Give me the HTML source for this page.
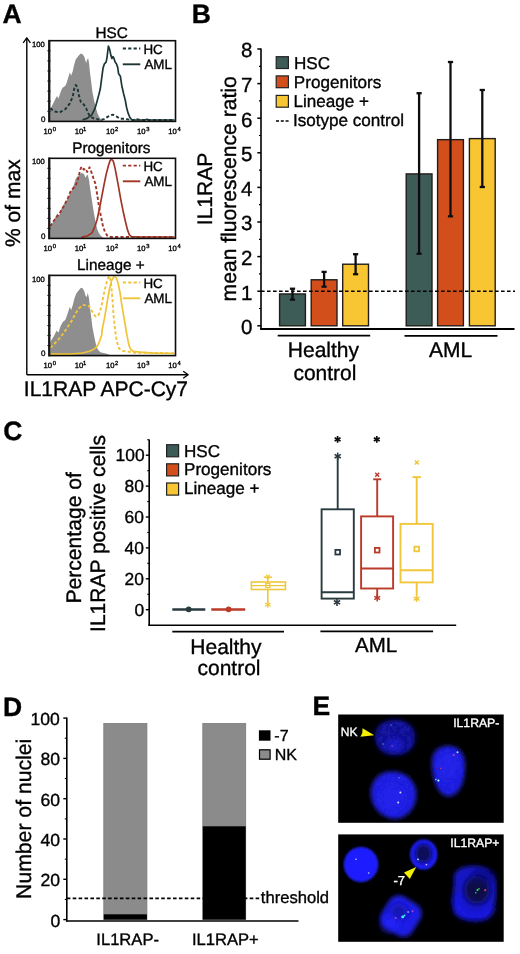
<!DOCTYPE html>
<html><head><meta charset="utf-8"><style>
html,body{margin:0;padding:0;background:#fff;}
svg{display:block;}
text{font-family:"Liberation Sans", sans-serif;}
</style></head><body>
<svg width="520" height="954" viewBox="0 0 520 954" style="text-rendering:geometricPrecision" font-family='"Liberation Sans", sans-serif'>
<defs><filter id="soft" x="0" y="0" width="100%" height="100%"><feGaussianBlur stdDeviation="0.4"/></filter></defs>
<rect x="0" y="0" width="520" height="954" fill="#fff"/>
<g filter="url(#soft)">
<text x="2.50" y="22.8" font-size="26.5" fill="#000" font-weight="bold" stroke="#000" stroke-width="0.35">A</text>
<text x="191.80" y="23.0" font-size="26.5" fill="#000" font-weight="bold" stroke="#000" stroke-width="0.35">B</text>
<text x="3.20" y="439.6" font-size="26.5" fill="#000" font-weight="bold" stroke="#000" stroke-width="0.35">C</text>
<text x="3.00" y="715.8" font-size="26.5" fill="#000" font-weight="bold" stroke="#000" stroke-width="0.35">D</text>
<text x="312.60" y="715.4" font-size="26.5" fill="#000" font-weight="bold" stroke="#000" stroke-width="0.35">E</text>
<polygon points="50.2,121.4 50.2,108.5 50.9,108 53.8,102.2 56.1,97.6 57.2,95.9 58.4,98.8 60.7,91.8 62.4,87.8 64.2,86.7 65.9,84.9 67,81.5 68.8,75.7 69.9,72.2 71.1,75.7 72.8,71.1 74,65.3 75.7,59.5 77.4,57.2 79.2,54.9 80.9,53.5 82.6,54.3 84.3,56.7 85.5,60.7 86.1,63 87.2,59.5 88.2,58.2 89,63 90.1,73.4 91.3,82.6 92.4,91.8 94.2,101.1 95.9,108 97.6,113.8 99.3,117.2 101.1,119.5 103,120.6 103,121.4" fill="#8e8e8e"/>
<polyline points="50.2,108.3 54.9,111.5 59.5,112.6 65.3,109.2 69.9,103.4 72.8,96.5 74,89.5 75.7,84.9 77.4,87.2 78.6,94.2 80.9,102.2 83.8,104.5 86.1,108 87.8,112.6 90.1,116.7 93.6,118.4 97.6,119.1 100.3,120 103.9,119.1 108.4,116.4 112.8,114.6 116.4,116.4 120,118.7 124.4,118.7 128.9,119.6 133.3,120 136.9,119.1 140,120 174.5,120" fill="none" stroke="#1d3536" stroke-width="1.9" stroke-dasharray="3.2,2.2" stroke-linejoin="round"/>
<polyline points="82.6,119.8 87.2,118.4 91.8,114.9 95,108.4 96.8,102.2 99,94.1 100.3,88.8 101.7,78.1 103,68.3 104.4,63.8 106.1,62.1 107,57.6 108.4,46 109.7,49.6 111,55.8 111.9,58.5 112.8,56.7 113.7,57.6 115.1,62.1 116.4,63.8 117.7,67.4 118.6,73.7 120.4,76.3 121.7,85.2 123.5,93.3 125.3,100.4 126.6,107.5 128,112.9 129.8,117.3 131.5,119.6 134.2,120 145,120 147,119.2 149,120 174.5,120" fill="none" stroke="#1d3536" stroke-width="1.7" stroke-linejoin="round"/>
<rect x="49.5" y="40.7" width="126.0" height="80.7" fill="none" stroke="#111" stroke-width="1.6"/>
<line x1="49.1" y1="39.900000000000006" x2="49.1" y2="122.2" stroke="#151515" stroke-width="2.0" stroke-linecap="butt"/>
<line x1="47.4" y1="50.7875" x2="50.6" y2="50.7875" stroke="#151515" stroke-width="1.1" stroke-linecap="butt"/>
<line x1="47.4" y1="60.875" x2="50.6" y2="60.875" stroke="#151515" stroke-width="1.1" stroke-linecap="butt"/>
<line x1="47.4" y1="70.9625" x2="50.6" y2="70.9625" stroke="#151515" stroke-width="1.1" stroke-linecap="butt"/>
<line x1="47.4" y1="81.05000000000001" x2="50.6" y2="81.05000000000001" stroke="#151515" stroke-width="1.1" stroke-linecap="butt"/>
<line x1="47.4" y1="91.1375" x2="50.6" y2="91.1375" stroke="#151515" stroke-width="1.1" stroke-linecap="butt"/>
<line x1="47.4" y1="101.22500000000001" x2="50.6" y2="101.22500000000001" stroke="#151515" stroke-width="1.1" stroke-linecap="butt"/>
<line x1="47.4" y1="111.3125" x2="50.6" y2="111.3125" stroke="#151515" stroke-width="1.1" stroke-linecap="butt"/>
<text x="95.40" y="37.8" font-size="15.3" fill="#000" font-weight="normal" stroke="#000" stroke-width="0.35">HSC</text>
<line x1="122.8" y1="48.5" x2="140.3" y2="48.5" stroke="#1d3536" stroke-width="1.9" stroke-dasharray="3.2,2.2" stroke-linecap="butt"/>
<line x1="122.8" y1="64.3" x2="140.3" y2="64.3" stroke="#1d3536" stroke-width="1.9" stroke-linecap="butt"/>
<text x="143.40" y="53.8" font-size="13.4" fill="#000" font-weight="normal" stroke="#000" stroke-width="0.35">HC</text>
<text x="144.40" y="68.8" font-size="13.4" fill="#000" font-weight="normal" stroke="#000" stroke-width="0.35">AML</text>
<text x="32.00" y="46.800000000000004" font-size="7.6" fill="#000" font-weight="normal" stroke="#000" stroke-width="0.35">100</text>
<text x="40.90" y="121.5" font-size="8" fill="#000" font-weight="normal" stroke="#000" stroke-width="0.35">0</text>
<text x="43.50" y="133.70000000000002" font-size="7.7" fill="#000" font-weight="normal" stroke="#000" stroke-width="0.35">10</text>
<text x="52.70" y="131.0" font-size="5.8" fill="#000" font-weight="normal" stroke="#000" stroke-width="0.35">0</text>
<text x="74.70" y="133.70000000000002" font-size="7.7" fill="#000" font-weight="normal" stroke="#000" stroke-width="0.35">10</text>
<text x="82.90" y="131.0" font-size="5.8" fill="#000" font-weight="normal" stroke="#000" stroke-width="0.35">1</text>
<text x="105.90" y="133.70000000000002" font-size="7.7" fill="#000" font-weight="normal" stroke="#000" stroke-width="0.35">10</text>
<text x="115.10" y="131.0" font-size="5.8" fill="#000" font-weight="normal" stroke="#000" stroke-width="0.35">2</text>
<text x="137.10" y="133.70000000000002" font-size="7.7" fill="#000" font-weight="normal" stroke="#000" stroke-width="0.35">10</text>
<text x="146.30" y="131.0" font-size="5.8" fill="#000" font-weight="normal" stroke="#000" stroke-width="0.35">3</text>
<text x="168.30" y="133.70000000000002" font-size="7.7" fill="#000" font-weight="normal" stroke="#000" stroke-width="0.35">10</text>
<text x="177.50" y="131.0" font-size="5.8" fill="#000" font-weight="normal" stroke="#000" stroke-width="0.35">4</text>
<polygon points="50.3,238.4 50.3,227.3 53.8,220.4 57.2,213.5 59,215.8 61.8,207.7 63.6,204.8 66.5,200.8 69.3,195 71.1,191.5 74,184.6 75.7,178.8 78,176 81.5,173.1 83.8,173.7 85.5,177.7 86.7,175.4 87.8,174.8 89,180 90.1,188.1 91.8,199.6 93.6,211.2 95.3,220.4 97,228.5 98.8,233.1 100.5,235.4 103,237.5 103,238.4" fill="#8e8e8e"/>
<polyline points="50.2,226.2 54.9,219.2 59.5,213.5 64.2,205.4 68.2,197.3 70.5,191.5 72.8,188.7 75.7,185.8 78,178.8 80.3,169.6 81.5,166.7 83.8,169.6 85.5,168.5 87.2,171.9 89.5,167.3 91.3,171.9 93.6,178.8 95.3,183.5 96.3,188.9 97.7,197.8 99,206.7 100.8,215.6 102.6,224.5 104.8,231.6 107.5,236.1 111,237 174.5,237" fill="none" stroke="#a03526" stroke-width="1.9" stroke-dasharray="3.2,2.2" stroke-linejoin="round"/>
<polyline points="81.5,237.1 87.2,236 91.8,233.1 95,226.3 97.2,219.2 99.5,208.5 101.7,196.9 103.9,185.3 106.1,174.6 108.4,165.7 110.2,160.3 111.5,159 113.3,161.2 115.1,168.4 116.8,177.3 118.6,187.1 120.8,199.6 123.1,211.1 125.3,221 127.5,229.9 129.3,234.8 131.5,236.6 140,237 174.5,237" fill="none" stroke="#a03526" stroke-width="1.7" stroke-linejoin="round"/>
<rect x="49.5" y="158.3" width="126.0" height="80.1" fill="none" stroke="#111" stroke-width="1.6"/>
<line x1="49.1" y1="157.5" x2="49.1" y2="239.20000000000002" stroke="#151515" stroke-width="2.0" stroke-linecap="butt"/>
<line x1="47.4" y1="168.3125" x2="50.6" y2="168.3125" stroke="#151515" stroke-width="1.1" stroke-linecap="butt"/>
<line x1="47.4" y1="178.32500000000002" x2="50.6" y2="178.32500000000002" stroke="#151515" stroke-width="1.1" stroke-linecap="butt"/>
<line x1="47.4" y1="188.3375" x2="50.6" y2="188.3375" stroke="#151515" stroke-width="1.1" stroke-linecap="butt"/>
<line x1="47.4" y1="198.35000000000002" x2="50.6" y2="198.35000000000002" stroke="#151515" stroke-width="1.1" stroke-linecap="butt"/>
<line x1="47.4" y1="208.3625" x2="50.6" y2="208.3625" stroke="#151515" stroke-width="1.1" stroke-linecap="butt"/>
<line x1="47.4" y1="218.375" x2="50.6" y2="218.375" stroke="#151515" stroke-width="1.1" stroke-linecap="butt"/>
<line x1="47.4" y1="228.3875" x2="50.6" y2="228.3875" stroke="#151515" stroke-width="1.1" stroke-linecap="butt"/>
<text x="72.30" y="153.0" font-size="15.3" fill="#000" font-weight="normal" stroke="#000" stroke-width="0.35">Progenitors</text>
<line x1="122.8" y1="165.6" x2="140.3" y2="165.6" stroke="#a03526" stroke-width="1.9" stroke-dasharray="3.2,2.2" stroke-linecap="butt"/>
<line x1="122.8" y1="181.3" x2="140.3" y2="181.3" stroke="#a03526" stroke-width="1.9" stroke-linecap="butt"/>
<text x="143.40" y="170.7" font-size="13.4" fill="#000" font-weight="normal" stroke="#000" stroke-width="0.35">HC</text>
<text x="144.40" y="186" font-size="13.4" fill="#000" font-weight="normal" stroke="#000" stroke-width="0.35">AML</text>
<text x="32.00" y="164.4" font-size="7.6" fill="#000" font-weight="normal" stroke="#000" stroke-width="0.35">100</text>
<text x="40.90" y="238.5" font-size="8" fill="#000" font-weight="normal" stroke="#000" stroke-width="0.35">0</text>
<text x="43.50" y="250.70000000000002" font-size="7.7" fill="#000" font-weight="normal" stroke="#000" stroke-width="0.35">10</text>
<text x="52.70" y="248.0" font-size="5.8" fill="#000" font-weight="normal" stroke="#000" stroke-width="0.35">0</text>
<text x="74.70" y="250.70000000000002" font-size="7.7" fill="#000" font-weight="normal" stroke="#000" stroke-width="0.35">10</text>
<text x="82.90" y="248.0" font-size="5.8" fill="#000" font-weight="normal" stroke="#000" stroke-width="0.35">1</text>
<text x="105.90" y="250.70000000000002" font-size="7.7" fill="#000" font-weight="normal" stroke="#000" stroke-width="0.35">10</text>
<text x="115.10" y="248.0" font-size="5.8" fill="#000" font-weight="normal" stroke="#000" stroke-width="0.35">2</text>
<text x="137.10" y="250.70000000000002" font-size="7.7" fill="#000" font-weight="normal" stroke="#000" stroke-width="0.35">10</text>
<text x="146.30" y="248.0" font-size="5.8" fill="#000" font-weight="normal" stroke="#000" stroke-width="0.35">3</text>
<text x="168.30" y="250.70000000000002" font-size="7.7" fill="#000" font-weight="normal" stroke="#000" stroke-width="0.35">10</text>
<text x="177.50" y="248.0" font-size="5.8" fill="#000" font-weight="normal" stroke="#000" stroke-width="0.35">4</text>
<polygon points="50.3,355.6 50.3,342 53.8,336.2 56.7,330.5 58.4,332.8 60.7,325.8 63,321.8 65.3,320.1 67,315.5 68.8,309.7 69.9,306.8 71.1,310.3 72.8,305.1 74.5,298.2 76.3,293.5 78,291.2 80.9,287.8 82.6,288.3 84.3,291.2 85.5,295.8 86.7,297 87.8,293 89,298.2 90.1,308.5 91.3,317.8 92.4,327 94.2,336.2 95.9,344.3 97.6,348.9 99.3,351.2 101.1,352.4 106,353.5 110,355 110,355.6" fill="#8e8e8e"/>
<polyline points="50.3,347.8 53.8,344.3 58.4,339.7 63,333.9 67.6,327 72.2,320.1 75.7,313.2 79.2,308 82.6,305.1 86.1,305.1 89,306.2 91.3,309.7 93.6,314.3 95.9,316.6 98.2,315.5 99.9,312 101.7,305.1 103.4,295.8 104.8,289.8 106.6,282.7 108.4,277.3 109.7,276 111,282.7 112.4,298.7 113.7,316.6 115.1,329.9 116.8,341.5 119.1,348.6 122.6,350.9 128.9,351.8 135.1,352.7 174.5,353.2" fill="none" stroke="#efc439" stroke-width="1.9" stroke-dasharray="3.2,2.2" stroke-linejoin="round"/>
<polyline points="50.3,354.1 71.1,354.1 82.6,353 89.5,351.2 94.2,348.9 97,346.6 99.3,342 101.7,335.1 102.1,329.9 104.8,316.6 107,303.2 109.3,289.8 111.5,280.9 114.2,276 116.4,278.2 118.2,283.6 120,292.5 121.7,304.1 123.5,314.8 125.3,325.5 127.1,336.2 128.9,345.1 130.7,349.5 133.3,351.3 140,352.2 153.8,353.2 174.5,353.5" fill="none" stroke="#efc439" stroke-width="1.7" stroke-linejoin="round"/>
<rect x="49.5" y="275.4" width="126.0" height="80.20000000000005" fill="none" stroke="#111" stroke-width="1.6"/>
<line x1="49.1" y1="274.59999999999997" x2="49.1" y2="356.40000000000003" stroke="#151515" stroke-width="2.0" stroke-linecap="butt"/>
<line x1="47.4" y1="285.42499999999995" x2="50.6" y2="285.42499999999995" stroke="#151515" stroke-width="1.1" stroke-linecap="butt"/>
<line x1="47.4" y1="295.45" x2="50.6" y2="295.45" stroke="#151515" stroke-width="1.1" stroke-linecap="butt"/>
<line x1="47.4" y1="305.475" x2="50.6" y2="305.475" stroke="#151515" stroke-width="1.1" stroke-linecap="butt"/>
<line x1="47.4" y1="315.5" x2="50.6" y2="315.5" stroke="#151515" stroke-width="1.1" stroke-linecap="butt"/>
<line x1="47.4" y1="325.525" x2="50.6" y2="325.525" stroke="#151515" stroke-width="1.1" stroke-linecap="butt"/>
<line x1="47.4" y1="335.55" x2="50.6" y2="335.55" stroke="#151515" stroke-width="1.1" stroke-linecap="butt"/>
<line x1="47.4" y1="345.57500000000005" x2="50.6" y2="345.57500000000005" stroke="#151515" stroke-width="1.1" stroke-linecap="butt"/>
<text x="77.10" y="270.4" font-size="15.3" fill="#000" font-weight="normal" stroke="#000" stroke-width="0.35">Lineage +</text>
<line x1="122.8" y1="282.5" x2="140.3" y2="282.5" stroke="#efc439" stroke-width="1.9" stroke-dasharray="3.2,2.2" stroke-linecap="butt"/>
<line x1="122.8" y1="298.3" x2="140.3" y2="298.3" stroke="#efc439" stroke-width="1.9" stroke-linecap="butt"/>
<text x="143.40" y="287.7" font-size="13.4" fill="#000" font-weight="normal" stroke="#000" stroke-width="0.35">HC</text>
<text x="144.40" y="302.8" font-size="13.4" fill="#000" font-weight="normal" stroke="#000" stroke-width="0.35">AML</text>
<text x="32.00" y="281.5" font-size="7.6" fill="#000" font-weight="normal" stroke="#000" stroke-width="0.35">100</text>
<text x="40.90" y="355.70000000000005" font-size="8" fill="#000" font-weight="normal" stroke="#000" stroke-width="0.35">0</text>
<text x="43.50" y="367.90000000000003" font-size="7.7" fill="#000" font-weight="normal" stroke="#000" stroke-width="0.35">10</text>
<text x="52.70" y="365.20000000000005" font-size="5.8" fill="#000" font-weight="normal" stroke="#000" stroke-width="0.35">0</text>
<text x="74.70" y="367.90000000000003" font-size="7.7" fill="#000" font-weight="normal" stroke="#000" stroke-width="0.35">10</text>
<text x="82.90" y="365.20000000000005" font-size="5.8" fill="#000" font-weight="normal" stroke="#000" stroke-width="0.35">1</text>
<text x="105.90" y="367.90000000000003" font-size="7.7" fill="#000" font-weight="normal" stroke="#000" stroke-width="0.35">10</text>
<text x="115.10" y="365.20000000000005" font-size="5.8" fill="#000" font-weight="normal" stroke="#000" stroke-width="0.35">2</text>
<text x="137.10" y="367.90000000000003" font-size="7.7" fill="#000" font-weight="normal" stroke="#000" stroke-width="0.35">10</text>
<text x="146.30" y="365.20000000000005" font-size="5.8" fill="#000" font-weight="normal" stroke="#000" stroke-width="0.35">3</text>
<text x="168.30" y="367.90000000000003" font-size="7.7" fill="#000" font-weight="normal" stroke="#000" stroke-width="0.35">10</text>
<text x="177.50" y="365.20000000000005" font-size="5.8" fill="#000" font-weight="normal" stroke="#000" stroke-width="0.35">4</text>
<line x1="26.8" y1="38.5" x2="26.8" y2="374.7" stroke="#000" stroke-width="1.4" stroke-linecap="butt"/>
<polyline points="23.2,42.8 26.8,37.8 30.4,42.8" fill="none" stroke="#000" stroke-width="1.3" stroke-linejoin="round"/>
<line x1="26.8" y1="374.7" x2="187.5" y2="374.7" stroke="#000" stroke-width="1.4" stroke-linecap="butt"/>
<polyline points="183.2,371.2 188.2,374.7 183.2,378.2" fill="none" stroke="#000" stroke-width="1.3" stroke-linejoin="round"/>
<text transform="translate(20.2,246.90) rotate(-90)" x="0" y="0" font-size="21" fill="#000" font-weight="normal" stroke="#000" stroke-width="0.35">% of max</text>
<text x="23.80" y="396.2" font-size="21" fill="#000" font-weight="normal" stroke="#000" stroke-width="0.35">IL1RAP APC-Cy7</text>
<line x1="261" y1="48.4" x2="261" y2="329.6" stroke="#000" stroke-width="1.6" stroke-linecap="butt"/>
<line x1="260.2" y1="329" x2="514.5" y2="329" stroke="#000" stroke-width="1.8" stroke-linecap="butt"/>
<line x1="257.3" y1="325.8" x2="261" y2="325.8" stroke="#000" stroke-width="1.5" stroke-linecap="butt"/>
<text x="240.90" y="334.1" font-size="20.5" fill="#000" font-weight="normal" stroke="#000" stroke-width="0.35">0</text>
<line x1="257.3" y1="291.2" x2="261" y2="291.2" stroke="#000" stroke-width="1.5" stroke-linecap="butt"/>
<text x="240.90" y="299.5" font-size="20.5" fill="#000" font-weight="normal" stroke="#000" stroke-width="0.35">1</text>
<line x1="257.3" y1="256.6" x2="261" y2="256.6" stroke="#000" stroke-width="1.5" stroke-linecap="butt"/>
<text x="240.90" y="264.90000000000003" font-size="20.5" fill="#000" font-weight="normal" stroke="#000" stroke-width="0.35">2</text>
<line x1="257.3" y1="222.0" x2="261" y2="222.0" stroke="#000" stroke-width="1.5" stroke-linecap="butt"/>
<text x="240.90" y="230.3" font-size="20.5" fill="#000" font-weight="normal" stroke="#000" stroke-width="0.35">3</text>
<line x1="257.3" y1="187.4" x2="261" y2="187.4" stroke="#000" stroke-width="1.5" stroke-linecap="butt"/>
<text x="240.90" y="195.70000000000002" font-size="20.5" fill="#000" font-weight="normal" stroke="#000" stroke-width="0.35">4</text>
<line x1="257.3" y1="152.8" x2="261" y2="152.8" stroke="#000" stroke-width="1.5" stroke-linecap="butt"/>
<text x="240.90" y="161.10000000000002" font-size="20.5" fill="#000" font-weight="normal" stroke="#000" stroke-width="0.35">5</text>
<line x1="257.3" y1="118.19999999999999" x2="261" y2="118.19999999999999" stroke="#000" stroke-width="1.5" stroke-linecap="butt"/>
<text x="240.90" y="126.49999999999999" font-size="20.5" fill="#000" font-weight="normal" stroke="#000" stroke-width="0.35">6</text>
<line x1="257.3" y1="83.6" x2="261" y2="83.6" stroke="#000" stroke-width="1.5" stroke-linecap="butt"/>
<text x="240.90" y="91.89999999999999" font-size="20.5" fill="#000" font-weight="normal" stroke="#000" stroke-width="0.35">7</text>
<line x1="257.3" y1="49.0" x2="261" y2="49.0" stroke="#000" stroke-width="1.5" stroke-linecap="butt"/>
<text x="240.90" y="57.3" font-size="20.5" fill="#000" font-weight="normal" stroke="#000" stroke-width="0.35">8</text>
<line x1="259" y1="308.5" x2="261" y2="308.5" stroke="#000" stroke-width="1.2" stroke-linecap="butt"/>
<line x1="259" y1="273.9" x2="261" y2="273.9" stroke="#000" stroke-width="1.2" stroke-linecap="butt"/>
<line x1="259" y1="239.3" x2="261" y2="239.3" stroke="#000" stroke-width="1.2" stroke-linecap="butt"/>
<line x1="259" y1="204.7" x2="261" y2="204.7" stroke="#000" stroke-width="1.2" stroke-linecap="butt"/>
<line x1="259" y1="170.1" x2="261" y2="170.1" stroke="#000" stroke-width="1.2" stroke-linecap="butt"/>
<line x1="259" y1="135.5" x2="261" y2="135.5" stroke="#000" stroke-width="1.2" stroke-linecap="butt"/>
<line x1="259" y1="100.9" x2="261" y2="100.9" stroke="#000" stroke-width="1.2" stroke-linecap="butt"/>
<line x1="259" y1="66.30000000000001" x2="261" y2="66.30000000000001" stroke="#000" stroke-width="1.2" stroke-linecap="butt"/>
<rect x="279.6" y="293.968" width="25.8" height="31.831999999999994" fill="#3e5b59" stroke="#231f1a" stroke-width="1.4"/>
<rect x="311.2" y="279.782" width="25.8" height="46.01800000000003" fill="#d2501f" stroke="#231f1a" stroke-width="1.4"/>
<rect x="342.7" y="264.212" width="25.8" height="61.58800000000002" fill="#f8c630" stroke="#231f1a" stroke-width="1.4"/>
<rect x="406.2" y="173.906" width="25.8" height="151.894" fill="#3e5b59" stroke="#231f1a" stroke-width="1.4"/>
<rect x="437.6" y="139.65200000000002" width="25.8" height="186.148" fill="#d2501f" stroke="#231f1a" stroke-width="1.4"/>
<rect x="469.4" y="138.614" width="25.8" height="187.186" fill="#f8c630" stroke="#231f1a" stroke-width="1.4"/>
<line x1="261" y1="291.2" x2="515" y2="291.2" stroke="#000" stroke-width="1.5" stroke-dasharray="3.6,2.4" stroke-linecap="butt"/>
<line x1="292.5" y1="288.7" x2="292.5" y2="299.6" stroke="#111" stroke-width="2.3" stroke-linecap="butt"/>
<line x1="289.9" y1="288.7" x2="295.1" y2="288.7" stroke="#111" stroke-width="2.3" stroke-linecap="butt"/>
<line x1="289.9" y1="299.6" x2="295.1" y2="299.6" stroke="#111" stroke-width="2.3" stroke-linecap="butt"/>
<line x1="324.09999999999997" y1="271.9" x2="324.09999999999997" y2="286.7" stroke="#111" stroke-width="2.3" stroke-linecap="butt"/>
<line x1="321.49999999999994" y1="271.9" x2="326.7" y2="271.9" stroke="#111" stroke-width="2.3" stroke-linecap="butt"/>
<line x1="321.49999999999994" y1="286.7" x2="326.7" y2="286.7" stroke="#111" stroke-width="2.3" stroke-linecap="butt"/>
<line x1="355.59999999999997" y1="254.2" x2="355.59999999999997" y2="274.2" stroke="#111" stroke-width="2.3" stroke-linecap="butt"/>
<line x1="352.99999999999994" y1="254.2" x2="358.2" y2="254.2" stroke="#111" stroke-width="2.3" stroke-linecap="butt"/>
<line x1="352.99999999999994" y1="274.2" x2="358.2" y2="274.2" stroke="#111" stroke-width="2.3" stroke-linecap="butt"/>
<line x1="419.09999999999997" y1="93.2" x2="419.09999999999997" y2="253.8" stroke="#111" stroke-width="2.3" stroke-linecap="butt"/>
<line x1="416.49999999999994" y1="93.2" x2="421.7" y2="93.2" stroke="#111" stroke-width="2.3" stroke-linecap="butt"/>
<line x1="416.49999999999994" y1="253.8" x2="421.7" y2="253.8" stroke="#111" stroke-width="2.3" stroke-linecap="butt"/>
<line x1="450.5" y1="62" x2="450.5" y2="216.3" stroke="#111" stroke-width="2.3" stroke-linecap="butt"/>
<line x1="447.9" y1="62" x2="453.1" y2="62" stroke="#111" stroke-width="2.3" stroke-linecap="butt"/>
<line x1="447.9" y1="216.3" x2="453.1" y2="216.3" stroke="#111" stroke-width="2.3" stroke-linecap="butt"/>
<line x1="482.29999999999995" y1="90" x2="482.29999999999995" y2="187" stroke="#111" stroke-width="2.3" stroke-linecap="butt"/>
<line x1="479.69999999999993" y1="90" x2="484.9" y2="90" stroke="#111" stroke-width="2.3" stroke-linecap="butt"/>
<line x1="479.69999999999993" y1="187" x2="484.9" y2="187" stroke="#111" stroke-width="2.3" stroke-linecap="butt"/>
<line x1="277.7" y1="335.6" x2="370.2" y2="335.6" stroke="#000" stroke-width="1.8" stroke-linecap="butt"/>
<line x1="404.5" y1="335.8" x2="497.5" y2="335.8" stroke="#000" stroke-width="1.8" stroke-linecap="butt"/>
<text x="287.80" y="356.8" font-size="21" fill="#000" font-weight="normal" stroke="#000" stroke-width="0.35">Healthy</text>
<text x="293.40" y="380.2" font-size="21" fill="#000" font-weight="normal" stroke="#000" stroke-width="0.35">control</text>
<text x="429.00" y="356.9" font-size="21" fill="#000" font-weight="normal" stroke="#000" stroke-width="0.35">AML</text>
<rect x="276.2" y="56.7" width="12.2" height="11.8" fill="#3e5b59" stroke="#222" stroke-width="1.2"/>
<rect x="276.2" y="75.9" width="12.2" height="11.8" fill="#d2501f" stroke="#222" stroke-width="1.2"/>
<rect x="276.2" y="95.4" width="12.2" height="11.8" fill="#f8c630" stroke="#222" stroke-width="1.2"/>
<text x="294.00" y="68.8" font-size="17.1" fill="#000" font-weight="normal" stroke="#000" stroke-width="0.35">HSC</text>
<text x="293.80" y="87.6" font-size="17.1" fill="#000" font-weight="normal" stroke="#000" stroke-width="0.35">Progenitors</text>
<text x="293.40" y="106.7" font-size="17.1" fill="#000" font-weight="normal" stroke="#000" stroke-width="0.35">Lineage +</text>
<text x="292.90" y="126.3" font-size="17.1" fill="#000" font-weight="normal" stroke="#000" stroke-width="0.35">Isotype control</text>
<line x1="276" y1="121" x2="289" y2="121" stroke="#000" stroke-width="1.3" stroke-dasharray="3,1.8" stroke-linecap="butt"/>
<text transform="translate(211.9,225.20) rotate(-90)" x="0" y="0" font-size="21" fill="#000" font-weight="normal" stroke="#000" stroke-width="0.35">IL1RAP</text>
<text transform="translate(235.8,301.40) rotate(-90)" x="0" y="0" font-size="21.1" fill="#000" font-weight="normal" stroke="#000" stroke-width="0.35">mean fluorescence ratio</text>
<line x1="149.2" y1="439.6" x2="149.2" y2="626" stroke="#000" stroke-width="1.6" stroke-linecap="butt"/>
<line x1="148.4" y1="625.3" x2="456.2" y2="625.3" stroke="#000" stroke-width="1.6" stroke-linecap="butt"/>
<line x1="145.8" y1="609.7" x2="149.2" y2="609.7" stroke="#000" stroke-width="1.4" stroke-linecap="butt"/>
<text x="134.60" y="615.8000000000001" font-size="17.4" fill="#000" font-weight="normal" stroke="#000" stroke-width="0.35">0</text>
<line x1="145.8" y1="578.8000000000001" x2="149.2" y2="578.8000000000001" stroke="#000" stroke-width="1.4" stroke-linecap="butt"/>
<text x="124.60" y="584.9000000000001" font-size="17.4" fill="#000" font-weight="normal" stroke="#000" stroke-width="0.35">20</text>
<line x1="145.8" y1="547.9000000000001" x2="149.2" y2="547.9000000000001" stroke="#000" stroke-width="1.4" stroke-linecap="butt"/>
<text x="124.60" y="554.0000000000001" font-size="17.4" fill="#000" font-weight="normal" stroke="#000" stroke-width="0.35">40</text>
<line x1="145.8" y1="517.0" x2="149.2" y2="517.0" stroke="#000" stroke-width="1.4" stroke-linecap="butt"/>
<text x="124.60" y="523.1" font-size="17.4" fill="#000" font-weight="normal" stroke="#000" stroke-width="0.35">60</text>
<line x1="145.8" y1="486.1" x2="149.2" y2="486.1" stroke="#000" stroke-width="1.4" stroke-linecap="butt"/>
<text x="124.60" y="492.20000000000005" font-size="17.4" fill="#000" font-weight="normal" stroke="#000" stroke-width="0.35">80</text>
<line x1="145.8" y1="455.20000000000005" x2="149.2" y2="455.20000000000005" stroke="#000" stroke-width="1.4" stroke-linecap="butt"/>
<text x="115.60" y="461.30000000000007" font-size="17.4" fill="#000" font-weight="normal" stroke="#000" stroke-width="0.35">100</text>
<line x1="147.2" y1="594.25" x2="149.2" y2="594.25" stroke="#000" stroke-width="1.1" stroke-linecap="butt"/>
<line x1="147.2" y1="563.35" x2="149.2" y2="563.35" stroke="#000" stroke-width="1.1" stroke-linecap="butt"/>
<line x1="147.2" y1="532.45" x2="149.2" y2="532.45" stroke="#000" stroke-width="1.1" stroke-linecap="butt"/>
<line x1="147.2" y1="501.55000000000007" x2="149.2" y2="501.55000000000007" stroke="#000" stroke-width="1.1" stroke-linecap="butt"/>
<line x1="147.2" y1="470.6500000000001" x2="149.2" y2="470.6500000000001" stroke="#000" stroke-width="1.1" stroke-linecap="butt"/>
<line x1="147.2" y1="439.75000000000006" x2="149.2" y2="439.75000000000006" stroke="#000" stroke-width="1.1" stroke-linecap="butt"/>
<rect x="166.6" y="444.7" width="12" height="12.1" fill="#3e5b59" stroke="#222" stroke-width="1.2"/>
<rect x="166.6" y="463.8" width="12" height="12.1" fill="#d2501f" stroke="#222" stroke-width="1.2"/>
<rect x="166.6" y="483.0" width="12" height="12.1" fill="#f8c630" stroke="#222" stroke-width="1.2"/>
<text x="184.00" y="456.5" font-size="17.1" fill="#000" font-weight="normal" stroke="#000" stroke-width="0.35">HSC</text>
<text x="184.00" y="474.6" font-size="17.1" fill="#000" font-weight="normal" stroke="#000" stroke-width="0.35">Progenitors</text>
<text x="184.00" y="493.8" font-size="17.1" fill="#000" font-weight="normal" stroke="#000" stroke-width="0.35">Lineage +</text>
<text transform="translate(80.9,603.50) rotate(-90)" x="0" y="0" font-size="21.1" fill="#000" font-weight="normal" stroke="#000" stroke-width="0.35">Percentage of</text>
<text transform="translate(104.6,631.90) rotate(-90)" x="0" y="0" font-size="21.0" fill="#000" font-weight="normal" stroke="#000" stroke-width="0.35">IL1RAP positive cells</text>
<line x1="172.3" y1="631.6" x2="284" y2="631.6" stroke="#000" stroke-width="1.8" stroke-linecap="butt"/>
<line x1="320.4" y1="631.3" x2="433.1" y2="631.3" stroke="#000" stroke-width="1.8" stroke-linecap="butt"/>
<text x="190.30" y="653.7" font-size="21" fill="#000" font-weight="normal" stroke="#000" stroke-width="0.35">Healthy</text>
<text x="197.50" y="674.6" font-size="21" fill="#000" font-weight="normal" stroke="#000" stroke-width="0.35">control</text>
<text x="355.00" y="652.3" font-size="20.5" fill="#000" font-weight="normal" stroke="#000" stroke-width="0.35">AML</text>
<line x1="172.3" y1="609.5" x2="205.3" y2="609.5" stroke="#2a3a40" stroke-width="2.6" stroke-linecap="butt"/>
<circle cx="188.7" cy="609.3" r="2.9" fill="#2a3a40"/>
<line x1="211.3" y1="609.5" x2="245.2" y2="609.5" stroke="#ba3a29" stroke-width="2.6" stroke-linecap="butt"/>
<circle cx="228.6" cy="609.3" r="2.9" fill="#ba3a29"/>
<rect x="251.4" y="582" width="34" height="7.5" fill="none" stroke="#f0c63a" stroke-width="1.6"/>
<line x1="251.4" y1="585.6" x2="285.4" y2="585.6" stroke="#f0c63a" stroke-width="1.3" stroke-linecap="butt"/>
<line x1="267.8" y1="577" x2="267.8" y2="582" stroke="#f0c63a" stroke-width="1.6" stroke-linecap="butt"/>
<line x1="263.8" y1="577.2" x2="271.8" y2="577.2" stroke="#f0c63a" stroke-width="1.6" stroke-linecap="butt"/>
<line x1="267.8" y1="589.5" x2="267.8" y2="603" stroke="#f0c63a" stroke-width="1.6" stroke-linecap="butt"/>
<rect x="265.8" y="583.6" width="4" height="4" fill="none" stroke="#f0c63a" stroke-width="1.2"/>
<line x1="267.8" y1="601.4" x2="267.8" y2="607.8000000000001" stroke="#f0c63a" stroke-width="1.3" stroke-linecap="butt"/>
<line x1="265.0287187078898" y1="603.0" x2="270.5712812921102" y2="606.2" stroke="#f0c63a" stroke-width="1.3" stroke-linecap="butt"/>
<line x1="270.5712812921102" y1="603.0" x2="265.0287187078898" y2="606.2" stroke="#f0c63a" stroke-width="1.3" stroke-linecap="butt"/>
<line x1="266.0" y1="574.7" x2="269.6" y2="578.3" stroke="#f0c63a" stroke-width="1.1" stroke-linecap="butt"/>
<line x1="266.0" y1="578.3" x2="269.6" y2="574.7" stroke="#f0c63a" stroke-width="1.1" stroke-linecap="butt"/>
<rect x="321.6" y="509.3" width="32.19999999999999" height="89.30000000000001" fill="none" stroke="#2a3a40" stroke-width="1.9"/>
<line x1="321.6" y1="592.2" x2="353.8" y2="592.2" stroke="#2a3a40" stroke-width="1.9" stroke-linecap="butt"/>
<line x1="337.7" y1="456.0" x2="337.7" y2="509.3" stroke="#2a3a40" stroke-width="1.9" stroke-linecap="butt"/>
<rect x="335.4" y="549.9000000000001" width="4.6" height="4.6" fill="none" stroke="#2a3a40" stroke-width="1.8"/>
<rect x="361.1" y="516.4" width="32.0" height="72.10000000000002" fill="none" stroke="#ba3a29" stroke-width="1.9"/>
<line x1="361.1" y1="568.5" x2="393.1" y2="568.5" stroke="#ba3a29" stroke-width="1.9" stroke-linecap="butt"/>
<line x1="377.2" y1="479.3" x2="377.2" y2="516.4" stroke="#ba3a29" stroke-width="1.9" stroke-linecap="butt"/>
<line x1="377.2" y1="588.5" x2="377.2" y2="597.0" stroke="#ba3a29" stroke-width="1.9" stroke-linecap="butt"/>
<rect x="374.9" y="547.9000000000001" width="4.6" height="4.6" fill="none" stroke="#ba3a29" stroke-width="1.8"/>
<rect x="400.5" y="523.9" width="32.19999999999999" height="58.5" fill="none" stroke="#f0c63a" stroke-width="1.9"/>
<line x1="400.5" y1="570.3" x2="432.7" y2="570.3" stroke="#f0c63a" stroke-width="1.9" stroke-linecap="butt"/>
<line x1="416.7" y1="477.1" x2="416.7" y2="523.9" stroke="#f0c63a" stroke-width="1.9" stroke-linecap="butt"/>
<line x1="416.7" y1="582.4" x2="416.7" y2="595.5" stroke="#f0c63a" stroke-width="1.9" stroke-linecap="butt"/>
<rect x="414.4" y="546.7" width="4.6" height="4.6" fill="none" stroke="#f0c63a" stroke-width="1.8"/>
<line x1="373.2" y1="479.3" x2="381.2" y2="479.3" stroke="#ba3a29" stroke-width="1.9" stroke-linecap="butt"/>
<line x1="412.5" y1="477.1" x2="420.9" y2="477.1" stroke="#f0c63a" stroke-width="1.9" stroke-linecap="butt"/>
<line x1="337.7" y1="452.59999999999997" x2="337.7" y2="459.8" stroke="#2a3a40" stroke-width="1.6" stroke-linecap="butt"/>
<line x1="334.582308546376" y1="454.4" x2="340.817691453624" y2="458.0" stroke="#2a3a40" stroke-width="1.6" stroke-linecap="butt"/>
<line x1="340.817691453624" y1="454.4" x2="334.582308546376" y2="458.0" stroke="#2a3a40" stroke-width="1.6" stroke-linecap="butt"/>
<line x1="337.0" y1="598.6999999999999" x2="337.0" y2="605.9" stroke="#2a3a40" stroke-width="1.6" stroke-linecap="butt"/>
<line x1="333.882308546376" y1="600.5" x2="340.117691453624" y2="604.0999999999999" stroke="#2a3a40" stroke-width="1.6" stroke-linecap="butt"/>
<line x1="340.117691453624" y1="600.5" x2="333.882308546376" y2="604.0999999999999" stroke="#2a3a40" stroke-width="1.6" stroke-linecap="butt"/>
<line x1="375.2" y1="472.7" x2="379.2" y2="476.7" stroke="#ba3a29" stroke-width="1.4" stroke-linecap="butt"/>
<line x1="375.2" y1="476.7" x2="379.2" y2="472.7" stroke="#ba3a29" stroke-width="1.4" stroke-linecap="butt"/>
<line x1="377.2" y1="594.6" x2="377.2" y2="601.4" stroke="#ba3a29" stroke-width="1.5" stroke-linecap="butt"/>
<line x1="374.25551362713287" y1="596.3" x2="380.1444863728671" y2="599.7" stroke="#ba3a29" stroke-width="1.5" stroke-linecap="butt"/>
<line x1="380.1444863728671" y1="596.3" x2="374.25551362713287" y2="599.7" stroke="#ba3a29" stroke-width="1.5" stroke-linecap="butt"/>
<line x1="414.8" y1="460.5" x2="418.8" y2="464.5" stroke="#f0c63a" stroke-width="1.4" stroke-linecap="butt"/>
<line x1="414.8" y1="464.5" x2="418.8" y2="460.5" stroke="#f0c63a" stroke-width="1.4" stroke-linecap="butt"/>
<line x1="416.6" y1="595.2" x2="416.6" y2="602.0" stroke="#f0c63a" stroke-width="1.5" stroke-linecap="butt"/>
<line x1="413.6555136271329" y1="596.9" x2="419.54448637286714" y2="600.3000000000001" stroke="#f0c63a" stroke-width="1.5" stroke-linecap="butt"/>
<line x1="419.54448637286714" y1="596.9" x2="413.6555136271329" y2="600.3000000000001" stroke="#f0c63a" stroke-width="1.5" stroke-linecap="butt"/>
<line x1="337.6" y1="436.0" x2="337.6" y2="442.79999999999995" stroke="#111" stroke-width="1.7" stroke-linecap="butt"/>
<line x1="334.6555136271329" y1="437.7" x2="340.54448637286714" y2="441.09999999999997" stroke="#111" stroke-width="1.7" stroke-linecap="butt"/>
<line x1="340.54448637286714" y1="437.7" x2="334.6555136271329" y2="441.09999999999997" stroke="#111" stroke-width="1.7" stroke-linecap="butt"/>
<line x1="376.8" y1="436.0" x2="376.8" y2="442.79999999999995" stroke="#111" stroke-width="1.7" stroke-linecap="butt"/>
<line x1="373.8555136271329" y1="437.7" x2="379.74448637286713" y2="441.09999999999997" stroke="#111" stroke-width="1.7" stroke-linecap="butt"/>
<line x1="379.74448637286713" y1="437.7" x2="373.8555136271329" y2="441.09999999999997" stroke="#111" stroke-width="1.7" stroke-linecap="butt"/>
<line x1="66.8" y1="717.5" x2="66.8" y2="921.6" stroke="#000" stroke-width="1.6" stroke-linecap="butt"/>
<line x1="66.0" y1="921.0" x2="298.5" y2="921.0" stroke="#000" stroke-width="1.6" stroke-linecap="butt"/>
<line x1="63.3" y1="919.6" x2="66.8" y2="919.6" stroke="#000" stroke-width="1.4" stroke-linecap="butt"/>
<text x="50.40" y="926.6" font-size="17.6" fill="#000" font-weight="normal" stroke="#000" stroke-width="0.35">0</text>
<line x1="63.3" y1="879.3000000000001" x2="66.8" y2="879.3000000000001" stroke="#000" stroke-width="1.4" stroke-linecap="butt"/>
<text x="40.40" y="886.3000000000001" font-size="17.6" fill="#000" font-weight="normal" stroke="#000" stroke-width="0.35">20</text>
<line x1="63.3" y1="839.0" x2="66.8" y2="839.0" stroke="#000" stroke-width="1.4" stroke-linecap="butt"/>
<text x="40.40" y="846.0" font-size="17.6" fill="#000" font-weight="normal" stroke="#000" stroke-width="0.35">40</text>
<line x1="63.3" y1="798.7" x2="66.8" y2="798.7" stroke="#000" stroke-width="1.4" stroke-linecap="butt"/>
<text x="40.40" y="805.7" font-size="17.6" fill="#000" font-weight="normal" stroke="#000" stroke-width="0.35">60</text>
<line x1="63.3" y1="758.4" x2="66.8" y2="758.4" stroke="#000" stroke-width="1.4" stroke-linecap="butt"/>
<text x="40.40" y="765.4" font-size="17.6" fill="#000" font-weight="normal" stroke="#000" stroke-width="0.35">80</text>
<line x1="63.3" y1="718.1" x2="66.8" y2="718.1" stroke="#000" stroke-width="1.4" stroke-linecap="butt"/>
<text x="30.40" y="725.1" font-size="17.6" fill="#000" font-weight="normal" stroke="#000" stroke-width="0.35">100</text>
<line x1="64.8" y1="899.45" x2="66.8" y2="899.45" stroke="#000" stroke-width="1.1" stroke-linecap="butt"/>
<line x1="64.8" y1="859.15" x2="66.8" y2="859.15" stroke="#000" stroke-width="1.1" stroke-linecap="butt"/>
<line x1="64.8" y1="818.85" x2="66.8" y2="818.85" stroke="#000" stroke-width="1.1" stroke-linecap="butt"/>
<line x1="64.8" y1="778.55" x2="66.8" y2="778.55" stroke="#000" stroke-width="1.1" stroke-linecap="butt"/>
<line x1="64.8" y1="738.25" x2="66.8" y2="738.25" stroke="#000" stroke-width="1.1" stroke-linecap="butt"/>
<rect x="103.8" y="723.5405000000001" width="43.1" height="196.05949999999996" fill="#8b8b8b" stroke="#7a7a7a" stroke-width="0.8"/>
<rect x="202.8" y="723.5405000000001" width="42.9" height="196.05949999999996" fill="#8b8b8b" stroke="#7a7a7a" stroke-width="0.8"/>
<rect x="103.8" y="914.3" width="43.1" height="5.300000000000068" fill="#000" stroke="none" stroke-width="0"/>
<rect x="202.8" y="826.3" width="42.9" height="93.30000000000007" fill="#000" stroke="none" stroke-width="0"/>
<line x1="66.8" y1="898.4" x2="259.4" y2="898.4" stroke="#000" stroke-width="1.7" stroke-dasharray="3.6,2.3" stroke-linecap="butt"/>
<text x="260.80" y="902.7" font-size="16.6" fill="#000" font-weight="normal" stroke="#000" stroke-width="0.35">threshold</text>
<rect x="258.9" y="730.3" width="11.6" height="10.4" fill="#000" stroke="none" stroke-width="0"/>
<rect x="259.5" y="749.8" width="10.6" height="9.4" fill="#8b8b8b" stroke="#000" stroke-width="1.2"/>
<text x="274.30" y="741.3" font-size="16" fill="#000" font-weight="normal" stroke="#000" stroke-width="0.35">-7</text>
<text x="274.80" y="759.9" font-size="16" fill="#000" font-weight="normal" stroke="#000" stroke-width="0.35">NK</text>
<text x="96.30" y="944.9" font-size="16.6" fill="#000" font-weight="normal" stroke="#000" stroke-width="0.35">IL1RAP-</text>
<text x="191.90" y="945.4" font-size="16.6" fill="#000" font-weight="normal" stroke="#000" stroke-width="0.35">IL1RAP+</text>
<text transform="translate(30.8,898.90) rotate(-90)" x="0" y="0" font-size="21.2" fill="#000" font-weight="normal" stroke="#000" stroke-width="0.35">Number of nuclei</text>
<defs>
<filter id="bl" x="-50%" y="-50%" width="200%" height="200%"><feGaussianBlur stdDeviation="2.0"/></filter>
<filter id="blw" x="-50%" y="-50%" width="200%" height="200%"><feGaussianBlur stdDeviation="3.0"/></filter>
<filter id="bls" x="-50%" y="-50%" width="200%" height="200%"><feGaussianBlur stdDeviation="1.3"/></filter>
<filter id="bl3" x="-50%" y="-50%" width="200%" height="200%"><feGaussianBlur stdDeviation="0.5"/></filter>
<filter id="tex" x="-20%" y="-20%" width="140%" height="140%">
 <feTurbulence type="fractalNoise" baseFrequency="0.22" numOctaves="2" seed="3" result="n"/>
 <feColorMatrix in="n" type="matrix" values="0 0 0 0 0  0 0 0 0 0  0 0 0 0 0  0 0 0 -1.6 1.25" result="m"/>
 <feComposite in="SourceGraphic" in2="m" operator="in" result="t"/>
 <feGaussianBlur in="t" stdDeviation="0.7"/>
</filter>
</defs>
<rect x="338.2" y="714.5" width="165.5" height="108.3" fill="#000" stroke="none" stroke-width="0"/>
<rect x="338.2" y="834.4" width="165.5" height="107.4" fill="#000" stroke="none" stroke-width="0"/>
<g filter="url(#bl)">
<path d="M375,738 C374,726 383,719.5 395,719.5 C407,719.5 416,727 415.5,738 C415,749 407,755.5 395,755.5 C383,755.5 375.5,749 375,738 Z" fill="#0c0c88"/>
<path d="M371,795 C370,782 378,772 391,771.5 C404,771 414,779 416,790 C418,802 412,815 399,818.5 C386,821 372,810 371,795 Z" fill="#1a1ad8"/>
<path d="M432,764 C431,752 438,746 448,746 C459,746 465,753 465,765 C465,779 462,793 450,796.5 C439,797 432.5,782 432,764 Z" fill="#1a1ad8"/>
</g>
<g filter="url(#tex)" opacity="0.5">
<ellipse cx="395" cy="737.5" rx="19" ry="16.5" fill="#2020d8"/>
<ellipse cx="393.5" cy="795" rx="21" ry="22" fill="#2a2aff"/>
<ellipse cx="448.5" cy="770" rx="15" ry="23" fill="#2a2aff"/>
</g>
<g filter="url(#blw)">
<ellipse cx="394" cy="745" rx="8" ry="6" fill="#2222e0" opacity="0.8"/>
<ellipse cx="392" cy="798" rx="12" ry="13" fill="#2525f0" opacity="0.7"/>
<ellipse cx="448" cy="766" rx="9" ry="14" fill="#2525f0" opacity="0.6"/>
</g>
<g filter="url(#bls)">
<ellipse cx="361" cy="864.5" rx="17.2" ry="17.6" fill="#1c1cff"/>
<ellipse cx="423.7" cy="854.5" rx="13.6" ry="15.1" fill="#1c1cf4"/>
</g>
<g filter="url(#bl)">
<ellipse cx="423.5" cy="853.5" rx="8.3" ry="9.6" fill="#0a0a58"/>
<rect x="383" y="898" width="36" height="36" rx="11" transform="rotate(32 401 916)" fill="#1a1ae6"/>
<path d="M454,880 C453,870 462,866 473,866 C486,866 495,872 496,884 C497,898 495,912 487,918 C478,922 462,921 455,914 C451,906 454,892 454,880 Z" fill="#1515c8"/>
</g>
<g filter="url(#blw)">
<ellipse cx="399" cy="912" rx="9" ry="8" fill="#12128c" opacity="0.6"/>
<ellipse cx="477" cy="890" rx="13" ry="14" fill="#070745"/>
<ellipse cx="483" cy="876" rx="12" ry="8" fill="#0a0a70" opacity="0.6"/>
<path d="M456,896 C456,910 464,917 476,917 C486,917 491,912 492,906" stroke="#2222ff" stroke-width="7" fill="none" opacity="0.55"/>
<ellipse cx="390" cy="924" rx="9" ry="8" fill="#2424ff" opacity="0.7"/>
</g>
<g filter="url(#bl3)">
<circle cx="457.5" cy="752.3" r="1.0" fill="#b8d8ff"/>
<circle cx="453.7" cy="755.0" r="0.9" fill="#e04070"/>
<circle cx="440.8" cy="768.3" r="0.9" fill="#d03060"/>
<circle cx="438.4" cy="780.6" r="1.1" fill="#a0ffff"/>
<circle cx="435.8" cy="779.6" r="0.8" fill="#60e0c0"/>
<circle cx="400.4" cy="792.5" r="1.0" fill="#d0d8ff"/>
<circle cx="398.2" cy="802.5" r="1.0" fill="#d0e0ff"/>
<circle cx="399" cy="777.7" r="0.7" fill="#8080ff"/>
<circle cx="391" cy="725" r="0.7" fill="#8080b0"/>
<circle cx="392" cy="746" r="0.7" fill="#d05080"/>
<circle cx="383" cy="744" r="0.7" fill="#9090d0"/>
<circle cx="356" cy="859.2" r="0.8" fill="#a0f0ff"/>
<circle cx="368.7" cy="873" r="0.8" fill="#c0d0ff"/>
<circle cx="418" cy="859.3" r="0.9" fill="#a0ffff"/>
<circle cx="426.4" cy="864.6" r="0.9" fill="#d0b0ff"/>
<circle cx="402.7" cy="916.9" r="1.4" fill="#40f0ff"/>
<circle cx="404.5" cy="915.5" r="0.9" fill="#40f0ff"/>
<circle cx="408.1" cy="911.9" r="1.0" fill="#8090ff"/>
<circle cx="412.5" cy="911.2" r="1.0" fill="#c040c0"/>
<circle cx="395.6" cy="918.1" r="1.0" fill="#c040a0"/>
<circle cx="477.5" cy="890.0" r="1.1" fill="#30e060"/>
<circle cx="475.8" cy="892.8" r="0.8" fill="#30e060"/>
<circle cx="479" cy="888.8" r="0.8" fill="#30e060"/>
<circle cx="485.2" cy="890.2" r="1.1" fill="#e03050"/>
</g>
<polygon points="362.5,728.3 374.2,735.3 360.4,736.8 362.3,733" fill="#f6f000"/>
<polygon points="416.2,867.0 409.8,879.0 404.0,872.6" fill="#f4ee00"/>
<text x="340.80" y="735.7" font-size="12" fill="#fff" font-weight="normal" stroke="#fff" stroke-width="0.35">NK</text>
<text x="453.20" y="727.3" font-size="12.2" fill="#fff" font-weight="normal" stroke="#fff" stroke-width="0.35">IL1RAP-</text>
<text x="450.30" y="846.8" font-size="12.2" fill="#fff" font-weight="normal" stroke="#fff" stroke-width="0.35">IL1RAP+</text>
<text x="393.40" y="884.5" font-size="13" fill="#fff" font-weight="normal" stroke="#fff" stroke-width="0.35">-7</text>
</g>
</svg>
</body></html>
